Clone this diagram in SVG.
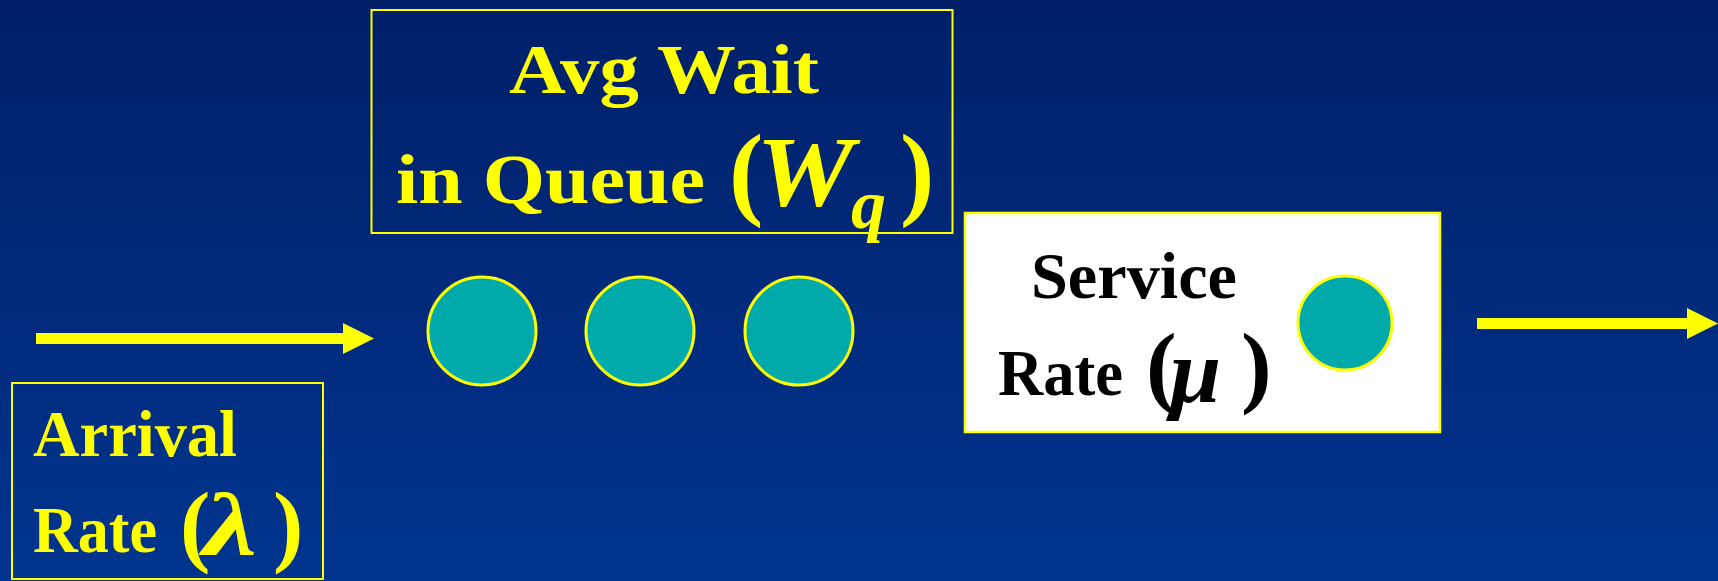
<svg xmlns="http://www.w3.org/2000/svg" width="1718" height="581" viewBox="0 0 1718 581">
<defs>
<linearGradient id="bg" x1="0" y1="0" x2="0" y2="1">
<stop offset="0" stop-color="#001f68"/>
<stop offset="1" stop-color="#00358f"/>
</linearGradient>
<marker id="head" markerUnits="userSpaceOnUse" markerWidth="31" markerHeight="31" refX="0" refY="15.5" orient="auto" viewBox="0 0 31 31">
<path d="M0,0 L31,15.5 L0,31 Z" fill="#ffff00"/>
</marker>
<style>
.box{fill:none;stroke:#ffff00;stroke-width:2}
.wbox{fill:#ffffff;stroke:#ffff00;stroke-width:2.5}
.ball{fill:#00aaaa;stroke:#ffff00;stroke-width:3}
.lbl{font-family:"Liberation Serif","Times New Roman",serif;font-weight:bold;fill:#ffff00}
.par{font-family:"Liberation Serif","Times New Roman",serif;font-weight:bold;fill:#ffff00}
.ital{font-family:"Liberation Serif","Times New Roman",serif;font-style:italic;font-weight:bold;fill:#ffff00}
.conn{stroke:#ffff00;stroke-width:11;fill:none}
text.blk{fill:#000000}
</style>
</defs>
<rect x="0" y="0" width="1718" height="581" fill="url(#bg)"/>

<g id="connectors">
<line class="conn" x1="36" y1="338.5" x2="343" y2="338.5" marker-end="url(#head)"/>
<line class="conn" x1="1477" y1="323.5" x2="1687" y2="323.5" marker-end="url(#head)"/>
</g>

<g id="wait-label">
<rect class="box" x="371.5" y="10" width="581" height="223"/>
<text class="lbl" x="509" y="93" font-size="70" textLength="310" lengthAdjust="spacingAndGlyphs">Avg Wait</text>
<text class="lbl" x="396" y="203" font-size="70" textLength="309" lengthAdjust="spacingAndGlyphs">in Queue</text>
<text class="par" x="729" y="206" font-size="103">(</text>
<text class="ital" x="756" y="205" font-size="100" textLength="98" lengthAdjust="spacingAndGlyphs">W</text>
<text class="ital" x="851" y="228" font-size="70" font-weight="normal">q</text>
<text class="par" x="900" y="206" font-size="103">)</text>
</g>

<g id="queue">
<circle class="ball" cx="482" cy="331" r="54"/>
<circle class="ball" cx="640" cy="331" r="54"/>
<circle class="ball" cx="799" cy="331" r="54"/>
</g>

<g id="arrival">
<rect class="box" x="12" y="383" width="311" height="196"/>
<text class="lbl" x="33" y="456" font-size="66" textLength="204" lengthAdjust="spacingAndGlyphs">Arrival</text>
<text class="lbl" x="33" y="552" font-size="66" textLength="124" lengthAdjust="spacingAndGlyphs">Rate</text>
<text class="par" x="180" y="555" font-size="91">(</text>
<text class="ital" x="203" y="554" font-size="88" textLength="54" lengthAdjust="spacingAndGlyphs">λ</text>
<text class="par" x="273" y="555" font-size="91">)</text>
</g>

<g id="server">
<rect class="wbox" x="965" y="213" width="475" height="219"/>
<text class="lbl blk" x="1031" y="298" font-size="66" textLength="206" lengthAdjust="spacingAndGlyphs">Service</text>
<text class="lbl blk" x="998" y="395" font-size="66" textLength="125" lengthAdjust="spacingAndGlyphs">Rate</text>
<text class="par blk" x="1146" y="396" font-size="92">(</text>
<text class="ital blk" x="1170" y="402" font-size="92">μ</text>
<text class="par blk" x="1241" y="396" font-size="92">)</text>
<circle class="ball" cx="1345" cy="323" r="47" stroke-width="2.5"/>
</g>
</svg>
